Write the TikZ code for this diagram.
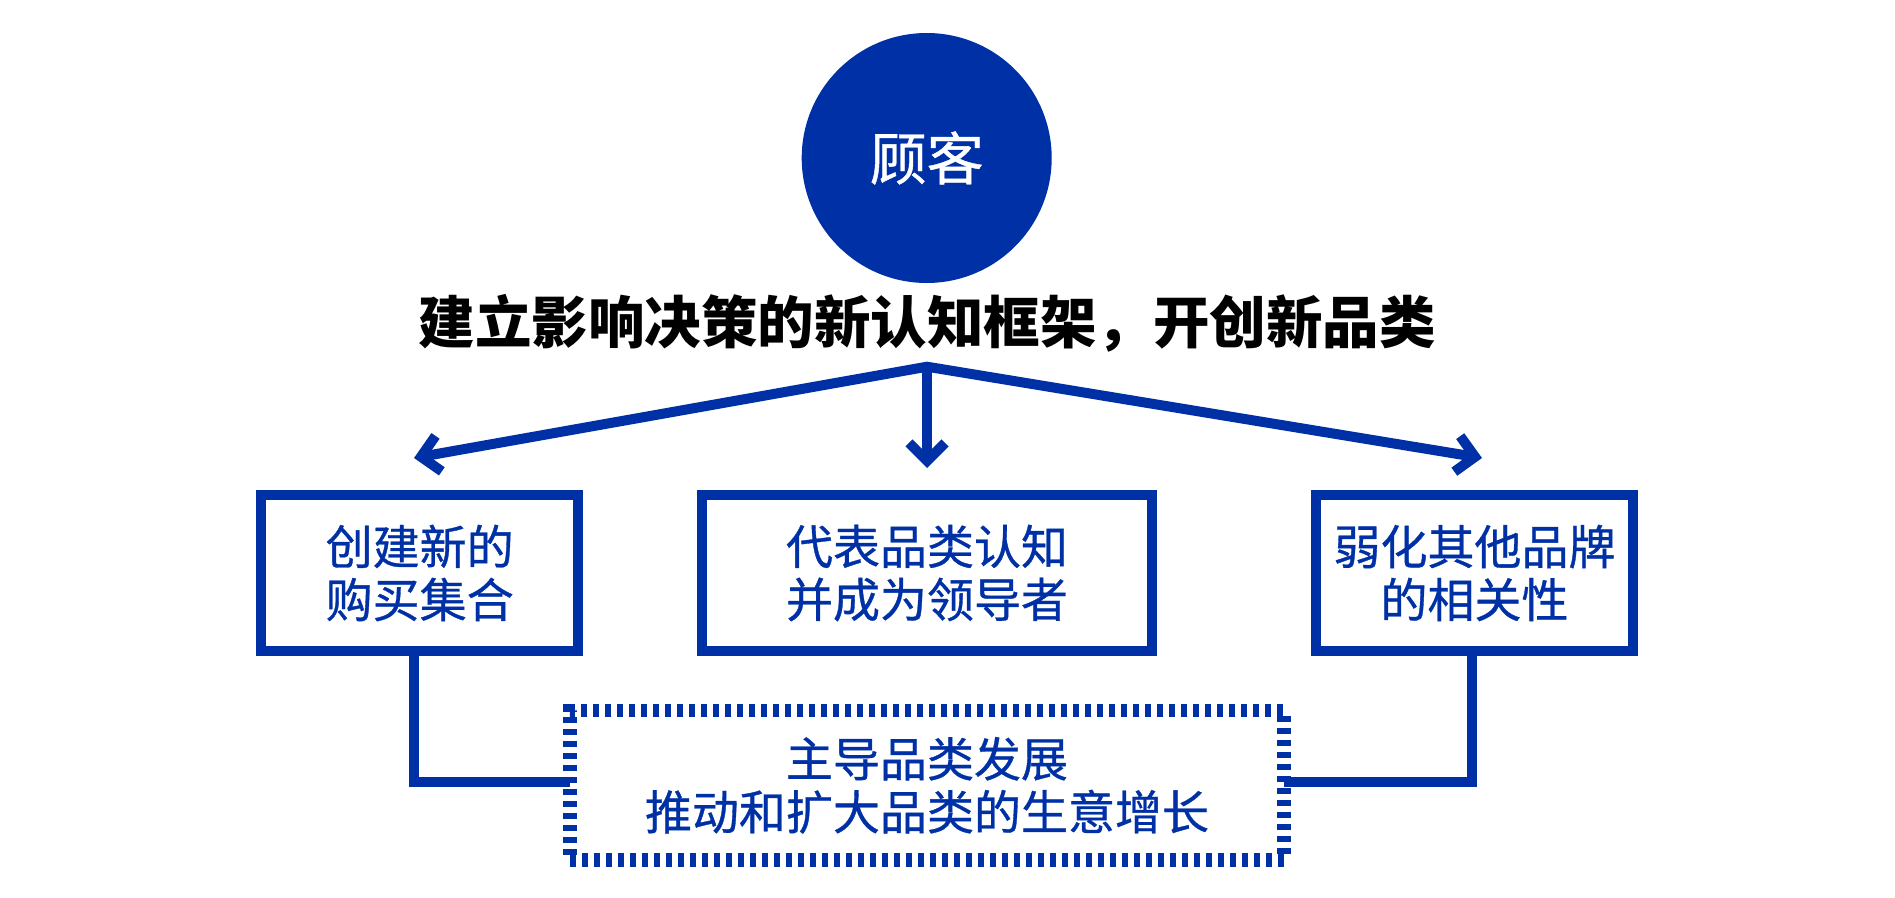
\documentclass[tikz,border=0pt]{standalone}
\usepackage{fontspec}
\newfontfamily\cjk[FakeBold=0.7]{Noto Sans CJK SC}
\newfontfamily\cjkhead{Noto Sans CJK SC}
\usepackage{xcolor}
\usetikzlibrary{arrows.meta,positioning,calc}
\definecolor{brandblue}{RGB}{0,48,166}

\begin{document}
\begin{tikzpicture}[x=1pt,y=-1pt,
    every node/.style={font=\cjk\fontsize{47}{53}\selectfont, text=brandblue},
    catbox/.style={draw=brandblue, line width=10pt, minimum height=156pt,
      align=center, outer sep=0pt, inner sep=0pt},
    link/.style={draw=brandblue, line width=10pt},
    >={Straight Barb[length=18pt,width=36pt,line width=10pt]}]
    \useasboundingbox (0,0) rectangle (1895,897);

    \node[circle, fill=brandblue, minimum size=250pt, inner sep=0pt, text=white,
      font=\cjk\fontsize{57}{60}\selectfont] (client) at (926.7,158) {顾客};
    \node[text=black, font=\cjkhead\bfseries\fontsize{56.5}{60}\selectfont]
      (frame) at (927,323) {建立影响决策的新认知框架，开创新品类};

    \node[catbox, minimum width=317.3pt] (buy) at (419.7,573) {创建新的\\购买集合};
    \node[catbox, minimum width=449.4pt] (lead) at (927,573) {代表品类认知\\并成为领导者};
    \node[catbox, minimum width=317.6pt] (weak) at (1474.5,573) {弱化其他品牌\\的相关性};
    \node[catbox, line width=13.4pt, dash pattern=on 6pt off 6pt,
      minimum width=714pt, minimum height=149.3pt] (grow) at (927,785.3)
      {主导品类发展\\推动和扩大品类的生意增长};

    % arrows out of the headline
    \coordinate (apex) at (927,366.7);
    \coordinate (tipL) at (414,458);
    \coordinate (tipM) at (927,468);
    \coordinate (tipR) at (1482,458);
    \draw[link, <->] (tipL) -- (apex) -- (tipR);
    \draw[link, ->] (apex) -- (tipM);

    % boxes down to the growth box
    \draw[link] ([xshift=-6pt]buy.south) |- ([yshift=3.6pt]grow.west);
    \draw[link] ([xshift=-3pt]weak.south) |- ([yshift=3.6pt]grow.east);
\end{tikzpicture}
\end{document}
